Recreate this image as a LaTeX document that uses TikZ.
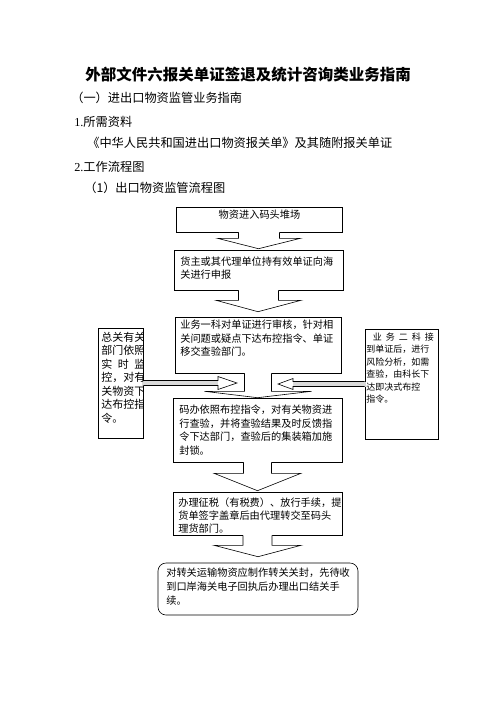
\documentclass[tikz,border=0pt]{standalone}
\usepackage{fontspec}
\setmainfont{Liberation Serif}
\newfontfamily\cjk{Noto Sans CJK SC}
\usetikzlibrary{calc}
\newcommand\blockarrow[6]{%
 \fill[white] ($(#1.south)+(-#3,-1)$) -- ($(#1.south)+(-#3,#5)$) -- ($(#1.south)+(-#4,#5)$) -- ($(#2.north)+(0,-#6)$) -- ($(#1.south)+(#4,#5)$) -- ($(#1.south)+(#3,#5)$) -- ($(#1.south)+(#3,-1)$) -- cycle;
 \draw ($(#1.south)+(-#3,0)$) -- ($(#1.south)+(-#3,#5)$) -- ($(#1.south)+(-#4,#5)$) -- ($(#2.north)+(0,-#6)$) -- ($(#1.south)+(#4,#5)$) -- ($(#1.south)+(#3,#5)$) -- ($(#1.south)+(#3,0)$);}
\begin{document}
\begin{tikzpicture}[x=1pt,y=-1pt,line width=0.6pt,
  boxs/.style={draw, fill=white, inner sep=0pt},
  tx/.style={inner sep=0pt, anchor=west, font=\cjk\fontsize{10.2}{12}\selectfont},
  body/.style={inner sep=0pt, anchor=west, font=\cjk\fontsize{12.2}{14}\selectfont},
  ltx/.style={inner sep=0pt, anchor=west, font=\cjk\fontsize{11}{12}\selectfont},
  rtx/.style={inner sep=0pt, anchor=west, font=\cjk\fontsize{9}{11}\selectfont},
  shaft/.style={fill=gray!30},
]
\useasboundingbox (0,0) rectangle (496,702);
\fill[white] (0,0) rectangle (496,702);

% headings
\node[inner sep=0pt, font=\cjk\bfseries\fontsize{15.5}{18}\selectfont] (title) at (248,75) {外部文件六报关单证签退及统计咨询类业务指南};
\node[body] (h1) at (71,98) {（一）进出口物资监管业务指南};
\node[body] (h2) at (74,122) {{\rmfamily 1.}所需资料};
\node[body] (h3) at (87,143) {《中华人民共和国进出口物资报关单》及其随附报关单证};
\node[body] (h4) at (74,167) {{\rmfamily 2.}工作流程图};
\node[body] (h5) at (84,188) {（1）出口物资监管流程图};

% boxes
\node[boxs, minimum width=166pt, minimum height=25pt] (b1) at (259,219.5) {};
\node[boxs, minimum width=169pt, minimum height=40pt] (b2) at (258.5,270) {};
\node[boxs, minimum width=166pt, minimum height=56pt] (b3) at (258,345) {};
\node[boxs, minimum width=169pt, minimum height=64pt] (b4) at (257.5,430) {};
\node[boxs, minimum width=169pt, minimum height=43pt] (b5) at (257.5,513.5) {};
\node[boxs, rounded corners=8pt, minimum width=200pt, minimum height=52pt] (b6) at (258,589) {};
\node[boxs, minimum width=45pt, minimum height=110pt] (lb) at (120.5,383) {};
\node[boxs, minimum width=73pt, minimum height=110pt] (rb) at (401.5,384) {};

% down arrows
\blockarrow{b1}{b2}{20.5}{41.5}{6}{1}
\blockarrow{b2}{b3}{20}{42.5}{10}{5}
\blockarrow{b3}{b4}{13.5}{53.5}{18}{0}
\blockarrow{b4}{b5}{14}{43.5}{11}{1}
\blockarrow{b5}{b6}{14.5}{43.5}{10}{6}

% side arrows
\coordinate (latip) at (237,383);
\coordinate (ratip) at (278,384);
\fill[shaft] ($(lb.east)+(-1,-2.5)$) rectangle ($(latip)+(-19,2.5)$);
\fill[white] ($(latip)+(-19,-6.5)$) -- (latip) -- ($(latip)+(-19,6.5)$) -- cycle;
\draw ($(lb.east)+(0,-2.5)$) -- ($(latip)+(-19,-2.5)$) -- ($(latip)+(-19,-6.5)$) -- (latip) -- ($(latip)+(-19,6.5)$) -- ($(latip)+(-19,2.5)$) -- ($(lb.east)+(0,2.5)$);
\fill[shaft] ($(rb.west)+(1,-2.5)$) rectangle ($(ratip)+(15,2.5)$);
\fill[white] ($(ratip)+(15,-5.5)$) -- (ratip) -- ($(ratip)+(15,5.5)$) -- cycle;
\draw ($(rb.west)+(0,-2.5)$) -- ($(ratip)+(15,-2.5)$) -- ($(ratip)+(15,-5.5)$) -- (ratip) -- ($(ratip)+(15,5.5)$) -- ($(ratip)+(15,2.5)$) -- ($(rb.west)+(0,2.5)$);

% box texts
\node[tx, anchor=center] (t1) at (259.5,215) {物资进入码头堆场};
\node[tx] (t2a) at (180,262) {货主或其代理单位持有效单证向海};
\node[tx] (t2b) at (180,275) {关进行申报};
\node[tx] (t3a) at (180,325) {业务一科对单证进行审核，针对相};
\node[tx] (t3b) at (180,338.5) {关问题或疑点下达布控指令、单证};
\node[tx] (t3c) at (180,352) {移交查验部门。};
\node[tx] (t4a) at (179,410) {码办依照布控指令，对有关物资进};
\node[tx] (t4b) at (179,423.5) {行查验，并将查验结果及时反馈指};
\node[tx] (t4c) at (179,437) {令下达部门，查验后的集装箱加施};
\node[tx] (t4d) at (179,450.5) {封锁。};
\node[tx] (t5a) at (178,503) {办理征税（有税费）、放行手续，提};
\node[tx] (t5b) at (178,516) {货单签字盖章后由代理转交至码头};
\node[tx] (t5c) at (178,529) {理货部门。};
\node[tx] (t6a) at (166,573) {对转关运输物资应制作转关关封，先待收};
\node[tx] (t6b) at (166,587) {到口岸海关电子回执后办理出口结关手};
\node[tx] (t6c) at (166,601) {续。};

\begin{scope}
\clip (lb.north west) rectangle (lb.south east);
\node[ltx] (l1) at (101,337) {总关有关};
\node[ltx] (l2) at (101,350.5) {部门依照};
\node[ltx] (l3) at (101,364) {实\hspace{5.5pt}时\hspace{5.5pt}监};
\node[ltx] (l4) at (101,377.5) {控，对有};
\node[ltx] (l5) at (101,391) {关物资下};
\node[ltx] (l6) at (101,404.5) {达布控指};
\node[ltx] (l7) at (101,418) {令。};
\end{scope}
\begin{scope}
\clip (rb.north west) rectangle (rb.south east);
\node[rtx] (r1) at (372.5,337) {业\hspace{4pt}务\hspace{4pt}二\hspace{4pt}科\hspace{4pt}接};
\node[rtx] (r2) at (366,349.5) {到单证后，进行};
\node[rtx] (r3) at (366,362) {风险分析，如需};
\node[rtx] (r4) at (366,374.5) {查验，由科长下};
\node[rtx] (r5) at (366,387) {达即决式布控};
\node[rtx] (r6) at (366,399.5) {指令。};
\end{scope}
\end{tikzpicture}
\end{document}
